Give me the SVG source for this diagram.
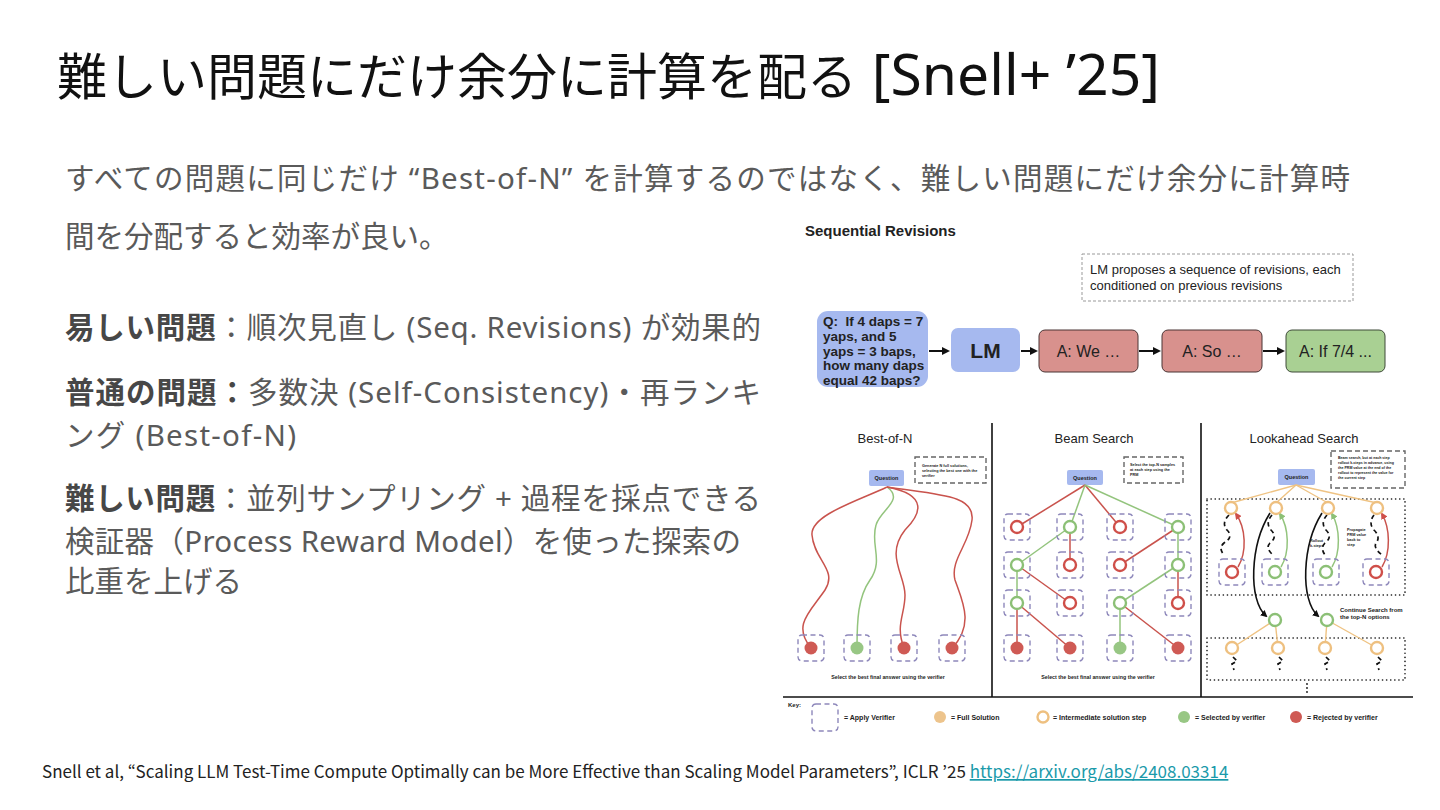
<svg xmlns="http://www.w3.org/2000/svg" width="1440" height="810" viewBox="0 0 1440 810">
<defs>
<style>
.title{font-family:"Noto Sans CJK JP","Noto Sans",sans-serif;font-size:50px;fill:#111;}
.tl{font-family:"Noto Sans","Noto Sans CJK JP",sans-serif;font-size:57px;}
.body{font-family:"Noto Sans","Noto Sans CJK JP",sans-serif;font-size:29.5px;fill:#5a5a5a;}
.b{font-weight:700;fill:#474747;}
.foot{font-family:"Noto Sans CJK JP","Noto Sans",sans-serif;font-size:17px;fill:#222;}
.link{fill:#1b9aaa;text-decoration:underline;}
.ar{font-family:"Liberation Sans",Arial,sans-serif;fill:#222;}
.arb{font-family:"Liberation Sans",Arial,sans-serif;fill:#222;font-weight:700;}
.dbox{fill:none;stroke:#8e88bb;stroke-width:1.4;stroke-dasharray:5 3.5;}
.gbox{fill:none;stroke:#666;stroke-width:1.4;stroke-dasharray:5 3;}
.lbox{fill:none;stroke:#999;stroke-width:1;stroke-dasharray:3 2;}
.dot{fill:none;stroke:#111;stroke-width:1.6;stroke-dasharray:0.1 4;stroke-linecap:round;}
.rl{stroke:#c9534d;stroke-width:1.5;fill:none;}
.gl{stroke:#93c47d;stroke-width:1.5;fill:none;}
.ol{stroke:#efc383;stroke-width:1.4;fill:none;}
.rr{fill:#fff;stroke:#cf4f49;stroke-width:2.4;}
.gr{fill:#fff;stroke:#8cc076;stroke-width:2.4;}
.or{fill:#fff;stroke:#eec080;stroke-width:2.4;}
.rf{fill:#cf5a54;}
.gf{fill:#98c784;}
.of{fill:#edc48c;}
.blue{fill:#a6b9ef;}
.wig{fill:none;stroke:#111;stroke-width:1.7;stroke-dasharray:4.5 3.5;}
.sep{stroke:#111;stroke-width:1.6;}
.arw{stroke:#111;stroke-width:2;fill:none;}
</style>
<marker id="ah" markerWidth="8" markerHeight="8" refX="6" refY="4" orient="auto" markerUnits="userSpaceOnUse"><path d="M0,0 L8,4 L0,8 z" fill="#111"/></marker>
<marker id="ahr" markerWidth="7" markerHeight="7" refX="5" refY="3.5" orient="auto" markerUnits="userSpaceOnUse"><path d="M0,0 L7,3.5 L0,7 z" fill="#cf4f49"/></marker>
<marker id="ahg" markerWidth="7" markerHeight="7" refX="5" refY="3.5" orient="auto" markerUnits="userSpaceOnUse"><path d="M0,0 L7,3.5 L0,7 z" fill="#8cc076"/></marker>
<marker id="ahk" markerWidth="7" markerHeight="7" refX="5" refY="3.5" orient="auto" markerUnits="userSpaceOnUse"><path d="M0,0 L7,3.5 L0,7 z" fill="#111"/></marker>
</defs>
<rect width="1440" height="810" fill="#fff"/>

<g id="title"><text class="title" x="57" y="95">難しい問題にだけ余分に計算を配る<tspan class="tl"> [Snell+ ’25]</tspan></text></g>

<g id="body">
<text class="body" x="65" y="189" textLength="1285" lengthAdjust="spacing">すべての問題に同じだけ “Best-of-N” を計算するのではなく、難しい問題にだけ余分に計算時</text>
<text class="body" x="65" y="247">間を分配すると効率が良い。</text>
<text class="body" x="65" y="338" textLength="696" lengthAdjust="spacing"><tspan class="b">易しい問題</tspan>：順次見直し (Seq. Revisions) が効果的</text>
<text class="body" x="65" y="403" textLength="696" lengthAdjust="spacing"><tspan class="b">普通の問題：</tspan>多数決 (Self-Consistency)・再ランキ</text>
<text class="body" x="65" y="446" textLength="231" lengthAdjust="spacing">ング (Best-of-N)</text>
<text class="body" x="65" y="509" textLength="696" lengthAdjust="spacing"><tspan class="b">難しい問題</tspan>：並列サンプリング + 過程を採点できる</text>
<text class="body" x="65" y="552" textLength="676" lengthAdjust="spacing">検証器（Process Reward Model）を使った探索の</text>
<text class="body" x="65" y="592">比重を上げる</text>
</g>

<g id="footer"><text class="foot" x="42" y="778">Snell et al, “Scaling LLM Test-Time Compute Optimally can be More Effective than Scaling Model Parameters”, ICLR ’25 <tspan class="link">https://arxiv.org/abs/2408.03314</tspan></text></g>

<!-- Sequential Revisions -->
<g id="seq-title"><text class="arb" x="805" y="236" font-size="15">Sequential Revisions</text></g>
<g id="seq-note">
<rect class="lbox" x="1082" y="254" width="271" height="47"/>
<text class="ar" x="1090" y="274" font-size="13">LM proposes a sequence of revisions, each</text>
<text class="ar" x="1090" y="290" font-size="13">conditioned on previous revisions</text>
</g>
<g id="seq-q">
<rect class="blue" x="817" y="311" width="111" height="76" rx="11"/>
<text class="arb" x="823" y="326" font-size="13.5">Q:&#160; If 4 daps = 7</text>
<text class="arb" x="823" y="341" font-size="13.5">yaps, and 5</text>
<text class="arb" x="823" y="356" font-size="13.5">yaps = 3 baps,</text>
<text class="arb" x="823" y="370" font-size="13.5">how many daps</text>
<text class="arb" x="823" y="385" font-size="13.5">equal 42 baps?</text>
</g>
<g id="seq-lm">
<rect class="blue" x="951" y="328" width="69" height="44" rx="7"/>
<text class="arb" x="985.5" y="358" font-size="21" text-anchor="middle">LM</text>
</g>
<g id="seq-a1">
<rect x="1039" y="330" width="99" height="42" rx="6" fill="#d8918d" stroke="#4a3535" stroke-width="1"/>
<text class="ar" x="1088.5" y="357" font-size="16" text-anchor="middle">A: We …</text>
</g>
<g id="seq-a2">
<rect x="1162" y="330" width="100" height="42" rx="6" fill="#d8918d" stroke="#4a3535" stroke-width="1"/>
<text class="ar" x="1212" y="357" font-size="16" text-anchor="middle">A: So …</text>
</g>
<g id="seq-a3">
<rect x="1286" y="330" width="99" height="42" rx="6" fill="#a9d093" stroke="#3e4a38" stroke-width="1"/>
<text class="ar" x="1335.5" y="357" font-size="16" text-anchor="middle">A: If 7/4 ...</text>
</g>
<g id="seq-connectors">
<line class="arw" x1="929" y1="351" x2="948" y2="351" marker-end="url(#ah)"/>
<line class="arw" x1="1021" y1="351" x2="1036" y2="351" marker-end="url(#ah)"/>
<line class="arw" x1="1139" y1="351" x2="1159" y2="351" marker-end="url(#ah)"/>
<line class="arw" x1="1263" y1="351" x2="1283" y2="351" marker-end="url(#ah)"/>
</g>

<!-- frame -->
<g id="frame">
<line class="sep" x1="992" y1="423" x2="992" y2="697"/>
<line class="sep" x1="1201" y1="423" x2="1201" y2="697"/>
<line class="sep" x1="783" y1="697" x2="1413" y2="697"/>
</g>

<!-- Best-of-N -->
<g id="bon">
<text class="ar" x="885" y="443" font-size="13" text-anchor="middle">Best-of-N</text>
<rect class="blue" x="869" y="470" width="35" height="16" rx="2"/>
<text class="arb" x="886.5" y="480" font-size="5.5" text-anchor="middle">Question</text>
<rect class="gbox" x="915" y="457" width="71" height="26"/>
<text class="arb" x="922" y="467" font-size="3.8">Generate N full solutions,</text>
<text class="arb" x="922" y="472" font-size="3.8">selecting the best one with the</text>
<text class="arb" x="922" y="477" font-size="3.8">verifier</text>
<g id="bon-connectors">
<path class="rl" d="M887,487 C860,500 810,515 812,535 C814,560 838,570 825,590 C810,612 792,625 811,648"/>
<path class="gl" d="M887,487 C905,500 880,510 876,525 C870,545 884,560 870,580 C858,597 857,620 857,648"/>
<path class="rl" d="M887,487 C930,495 920,515 905,530 C885,555 905,575 905,595 C905,615 895,625 904,648"/>
<path class="rl" d="M887,487 C940,495 975,495 972,520 C969,545 950,560 955,580 C962,600 975,625 952,648"/>
</g>
<rect class="dbox" x="798" y="635" width="26" height="26" rx="4"/>
<rect class="dbox" x="844" y="635" width="26" height="26" rx="4"/>
<rect class="dbox" x="891" y="635" width="26" height="26" rx="4"/>
<rect class="dbox" x="939" y="635" width="26" height="26" rx="4"/>
<circle class="rf" cx="811" cy="648" r="6.5"/>
<circle class="gf" cx="857" cy="648" r="6.5"/>
<circle class="rf" cx="904" cy="648" r="6.5"/>
<circle class="rf" cx="952" cy="648" r="6.5"/>
<text class="arb" x="888" y="679" font-size="5.3" text-anchor="middle">Select the best final answer using the verifier</text>
</g>

<!-- Beam Search -->
<g id="beam">
<text class="ar" x="1094" y="443" font-size="13" text-anchor="middle">Beam Search</text>
<rect class="blue" x="1067" y="470" width="36" height="15" rx="2"/>
<text class="arb" x="1085" y="480" font-size="5.5" text-anchor="middle">Question</text>
<rect class="gbox" x="1124" y="457" width="59" height="26"/>
<text class="arb" x="1130" y="466" font-size="3.8">Select the top-N samples</text>
<text class="arb" x="1130" y="471" font-size="3.8">at each step using the</text>
<text class="arb" x="1130" y="476" font-size="3.8">PRM</text>
<g id="beam-connectors">
<line class="rl" x1="1085" y1="485" x2="1017" y2="527"/>
<line class="gl" x1="1085" y1="485" x2="1070" y2="527"/>
<line class="rl" x1="1085" y1="485" x2="1120" y2="527"/>
<line class="gl" x1="1085" y1="485" x2="1178" y2="527"/>
<line class="gl" x1="1070" y1="527" x2="1017" y2="565"/>
<line class="rl" x1="1070" y1="527" x2="1070" y2="565"/>
<line class="rl" x1="1178" y1="527" x2="1120" y2="565"/>
<line class="gl" x1="1178" y1="527" x2="1178" y2="565"/>
<line class="gl" x1="1017" y1="565" x2="1017" y2="603"/>
<line class="rl" x1="1017" y1="565" x2="1070" y2="603"/>
<line class="gl" x1="1178" y1="565" x2="1120" y2="603"/>
<line class="rl" x1="1178" y1="565" x2="1178" y2="603"/>
<line class="rl" x1="1017" y1="603" x2="1017" y2="648"/>
<line class="rl" x1="1017" y1="603" x2="1070" y2="648"/>
<line class="gl" x1="1120" y1="603" x2="1120" y2="648"/>
<line class="rl" x1="1120" y1="603" x2="1178" y2="648"/>
</g>
<g id="beam-boxes">
<rect class="dbox" x="1004" y="514" width="26" height="26" rx="4"/><rect class="dbox" x="1057" y="514" width="26" height="26" rx="4"/><rect class="dbox" x="1107" y="514" width="26" height="26" rx="4"/><rect class="dbox" x="1165" y="514" width="26" height="26" rx="4"/>
<rect class="dbox" x="1004" y="552" width="26" height="26" rx="4"/><rect class="dbox" x="1057" y="552" width="26" height="26" rx="4"/><rect class="dbox" x="1107" y="552" width="26" height="26" rx="4"/><rect class="dbox" x="1165" y="552" width="26" height="26" rx="4"/>
<rect class="dbox" x="1004" y="590" width="26" height="26" rx="4"/><rect class="dbox" x="1057" y="590" width="26" height="26" rx="4"/><rect class="dbox" x="1107" y="590" width="26" height="26" rx="4"/><rect class="dbox" x="1165" y="590" width="26" height="26" rx="4"/>
<rect class="dbox" x="1004" y="635" width="26" height="26" rx="4"/><rect class="dbox" x="1057" y="635" width="26" height="26" rx="4"/><rect class="dbox" x="1107" y="635" width="26" height="26" rx="4"/><rect class="dbox" x="1165" y="635" width="26" height="26" rx="4"/>
</g>
<g id="beam-nodes">
<circle class="rr" cx="1017" cy="527" r="6"/><circle class="gr" cx="1070" cy="527" r="6"/><circle class="rr" cx="1120" cy="527" r="6"/><circle class="gr" cx="1178" cy="527" r="6"/>
<circle class="gr" cx="1017" cy="565" r="6"/><circle class="rr" cx="1070" cy="565" r="6"/><circle class="rr" cx="1120" cy="565" r="6"/><circle class="gr" cx="1178" cy="565" r="6"/>
<circle class="gr" cx="1017" cy="603" r="6"/><circle class="rr" cx="1070" cy="603" r="6"/><circle class="gr" cx="1120" cy="603" r="6"/><circle class="rr" cx="1178" cy="603" r="6"/>
<circle class="rf" cx="1017" cy="648" r="6.5"/><circle class="rf" cx="1070" cy="648" r="6.5"/><circle class="gf" cx="1120" cy="648" r="6.5"/><circle class="rf" cx="1178" cy="648" r="6.5"/>
</g>
<text class="arb" x="1098" y="679" font-size="5.3" text-anchor="middle">Select the best final answer using the verifier</text>
</g>

<!-- Lookahead Search -->
<g id="lookahead">
<text class="ar" x="1304" y="443" font-size="13" text-anchor="middle">Lookahead Search</text>
<rect class="blue" x="1278" y="469" width="37" height="16" rx="2"/>
<text class="arb" x="1296.5" y="479" font-size="5.5" text-anchor="middle">Question</text>
<rect class="gbox" x="1331" y="451" width="74" height="37"/>
<text class="arb" x="1338" y="459" font-size="3.6">Beam search, but at each step</text>
<text class="arb" x="1338" y="464" font-size="3.6">rollout k-steps in advance, using</text>
<text class="arb" x="1338" y="469" font-size="3.6">the PRM value at the end of the</text>
<text class="arb" x="1338" y="474" font-size="3.6">rollout to represent the value for</text>
<text class="arb" x="1338" y="479" font-size="3.6">the current step</text>
<rect class="dot" x="1207" y="499" width="198" height="96"/>
<rect class="dot" x="1207" y="638" width="198" height="42"/>
<g id="la-connectors">
<line class="ol" x1="1296" y1="485" x2="1231" y2="503"/>
<line class="ol" x1="1296" y1="485" x2="1276" y2="503"/>
<line class="ol" x1="1296" y1="485" x2="1328" y2="503"/>
<line class="ol" x1="1296" y1="485" x2="1377" y2="503"/>
<path class="wig" d="M1229,515 q-8,8 -2,15 q7,7 -3,13 q-6,5 0,12"/>
<path class="wig" d="M1272,515 q-7,8 -1,15 q7,7 -1,13 q-5,5 3,12"/>
<path class="wig" d="M1327,515 q-7,8 -1,15 q7,7 -1,13 q-5,5 0,12"/>
<path class="wig" d="M1374,515 q-6,8 0,15 q7,7 2,13 q-3,5 6,12"/>
<path class="rl" d="M1238,567 C1247,552 1246,528 1236,514" marker-end="url(#ahr)"/>
<path class="gl" d="M1281,567 C1290,552 1289,528 1280,514" marker-end="url(#ahg)"/>
<path class="gl" d="M1332,567 C1341,552 1340,528 1332,514" marker-end="url(#ahg)"/>
<path class="rl" d="M1382,567 C1391,552 1390,528 1382,514" marker-end="url(#ahr)"/>
<path d="M1270,513 C1250,545 1248,600 1266,616" stroke="#111" stroke-width="1.6" fill="none" marker-end="url(#ahk)"/>
<path d="M1322,513 C1302,545 1300,600 1318,616" stroke="#111" stroke-width="1.6" fill="none" marker-end="url(#ahk)"/>
<line class="ol" x1="1275" y1="620" x2="1232" y2="648"/>
<line class="ol" x1="1275" y1="620" x2="1278" y2="648"/>
<line class="ol" x1="1327" y1="620" x2="1325" y2="648"/>
<line class="ol" x1="1327" y1="620" x2="1377" y2="648"/>
<path class="wig" d="M1233,657 l4,4 l-5,3 l2,6" stroke-dasharray="3 2"/>
<path class="wig" d="M1279,657 l4,4 l-5,3 l2,6" stroke-dasharray="3 2"/>
<path class="wig" d="M1326,657 l4,4 l-5,3 l2,6" stroke-dasharray="3 2"/>
<path class="wig" d="M1378,657 l4,4 l-5,3 l2,6" stroke-dasharray="3 2"/>
</g>
<rect class="dbox" x="1219" y="559" width="26" height="26" rx="4"/>
<rect class="dbox" x="1262" y="559" width="26" height="26" rx="4"/>
<rect class="dbox" x="1313" y="559" width="26" height="26" rx="4"/>
<rect class="dbox" x="1363" y="559" width="26" height="26" rx="4"/>
<circle class="or" cx="1231" cy="508" r="6"/><circle class="or" cx="1276" cy="508" r="6"/><circle class="or" cx="1328" cy="508" r="6"/><circle class="or" cx="1377" cy="508" r="6"/>
<circle class="rr" cx="1232" cy="572" r="6"/><circle class="gr" cx="1275" cy="572" r="6"/><circle class="gr" cx="1326" cy="572" r="6"/><circle class="rr" cx="1376" cy="572" r="6"/>
<circle class="gr" cx="1275" cy="620" r="6"/><circle class="gr" cx="1327" cy="620" r="6"/>
<circle class="or" cx="1232" cy="648" r="6"/><circle class="or" cx="1278" cy="648" r="6"/><circle class="or" cx="1325" cy="648" r="6"/><circle class="or" cx="1377" cy="648" r="6"/>
<text class="arb" x="1310" y="542" font-size="3.8">Rollout</text>
<text class="arb" x="1310" y="547" font-size="3.8">k-steps</text>
<text class="arb" x="1347" y="531" font-size="3.8">Propagate</text>
<text class="arb" x="1347" y="536" font-size="3.8">PRM value</text>
<text class="arb" x="1347" y="541" font-size="3.8">back to</text>
<text class="arb" x="1347" y="546" font-size="3.8">step</text>
<text class="arb" x="1340" y="612" font-size="6">Continue Search from</text>
<text class="arb" x="1340" y="619" font-size="6">the top-N options</text>
<circle cx="1307" cy="684" r="0.9" fill="#111"/><circle cx="1307" cy="688" r="0.9" fill="#111"/><circle cx="1307" cy="692" r="0.9" fill="#111"/>
</g>

<!-- Key -->
<g id="key">
<text class="arb" x="788" y="707" font-size="6">Key:</text>
<rect class="dbox" x="812" y="704" width="26" height="27" rx="4"/>
<text class="arb" x="844" y="720" font-size="7">=  Apply Verifier</text>
<circle class="of" cx="940" cy="717" r="6"/>
<text class="arb" x="951" y="720" font-size="7">=  Full Solution</text>
<circle class="or" cx="1043" cy="717" r="5.5"/>
<text class="arb" x="1053" y="720" font-size="7">=  Intermediate solution step</text>
<circle class="gf" cx="1184" cy="717" r="6"/>
<text class="arb" x="1195" y="720" font-size="7">=  Selected by verifier</text>
<circle class="rf" cx="1296" cy="717" r="6"/>
<text class="arb" x="1307" y="720" font-size="7">=  Rejected by verifier</text>
</g>
</svg>
